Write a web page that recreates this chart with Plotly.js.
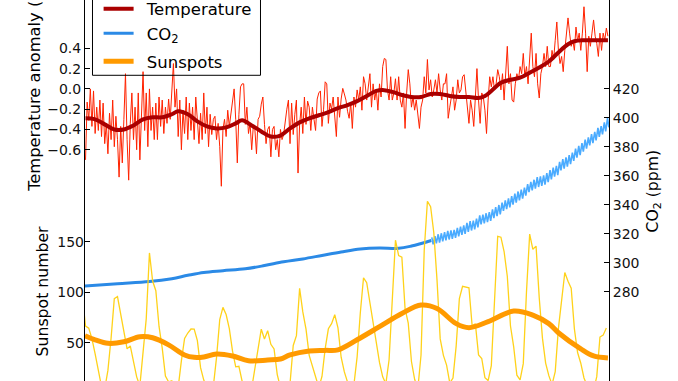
<!DOCTYPE html>
<html>
<head>
<meta charset="utf-8">
<script src="https://cdn.plot.ly/plotly-3.0.1.min.js"></script>
<style>html,body{margin:0;padding:0;background:#fff;}#chart{width:678px;height:381px;}</style>
</head>
<body>
<div id="chart"></div>
<script>
// ---------------- DATA ----------------
// Raw temperature anomaly (°C), half-year samples starting 1850.0
const tempStartYear = 1850.0;
const tempStep = 0.5;
const tempRaw = [
-0.70,-0.13,-0.31,0.00,-0.37,-0.02,-0.44,-0.18,-0.41,-0.11,
-0.47,-0.14,-0.54,-0.34,-0.64,-0.24,-0.50,-0.11,-0.57,-0.27,
-0.50,-0.87,-0.37,-0.73,-0.30,0.15,-0.50,-0.90,-0.34,-0.04,
-0.50,-0.18,-0.60,-0.04,-0.70,-0.20,0.17,-0.41,-0.04,-0.57,
0.00,-0.41,-0.18,-0.50,-0.14,-0.50,-0.08,-0.37,-0.11,-0.44,
-0.18,-0.34,-0.10,-0.30,-0.05,0.25,-0.18,0.00,-0.47,-0.11,
-0.60,-0.21,-0.44,-0.08,-0.50,-0.14,-0.41,-0.18,-0.50,-0.08,
-0.31,-0.54,-0.24,-0.50,-0.04,-0.44,-0.18,-0.57,-0.25,-0.45,
-0.30,
-0.27,-0.50,-0.34,-0.57,-0.96,-0.40,-0.30,-0.47,-0.21,-0.37,
-0.25,-0.08,0.00,-0.30,-0.73,-0.25,0.02,0.05,0.05,-0.35,
-0.18,-0.44,-0.34,-0.60,-0.37,-0.40,-0.64,-0.30,-0.27,-0.15,
-0.08,-0.35,-0.54,-0.40,-0.37,-0.67,-0.40,-0.37,-0.60,-0.50,
-0.67,-0.40,-0.50,-0.45,-0.30,-0.20,-0.11,-0.54,-0.14,-0.45,
-0.25,-0.11,-0.83,-0.35,-0.18,-0.44,-0.08,-0.35,-0.12,-0.18,
-0.41,-0.18,-0.30,-0.41,-0.10,-0.04,-0.02,-0.37,-0.20,0.07,
0.05,-0.34,-0.14,-0.20,-0.08,-0.30,-0.47,-0.08,-0.28,-0.10,
0.005,-0.05,
-0.11,-0.22,-0.29,-0.14,-0.39,-0.08,-0.18,-0.01,-0.11,0.02,
-0.21,0.12,0.05,-0.11,0.02,0.15,-0.18,0.05,-0.11,-0.01,
-0.21,0.05,-0.08,0.22,0.30,0.29,-0.01,-0.11,0.12,-0.11,
-0.04,0.10,-0.11,0.12,-0.11,-0.18,-0.04,-0.39,-0.04,0.19,
0.05,-0.18,-0.08,-0.21,-0.11,-0.27,-0.39,-0.18,-0.11,0.12,
-0.04,0.29,-0.01,0.09,-0.08,-0.01,0.09,-0.04,0.15,-0.01,
-0.11,0.05,0.05,0.15,-0.29,-0.18,-0.08,0.02,-0.21,-0.11,
0.09,-0.04,-0.01,0.12,0.14,-0.01,-0.14,-0.34,
-0.11,-0.21,-0.37,-0.04,0.20,-0.11,-0.34,-0.04,-0.08,-0.21,
-0.44,-0.11,0.12,0.02,0.12,-0.01,0.05,0.19,0.12,-0.01,
0.15,-0.11,0.12,0.42,0.05,0.15,-0.11,-0.13,0.05,0.15,
0.09,0.22,0.15,0.35,0.12,0.22,0.05,0.35,0.55,0.22,
0.12,0.35,0.05,-0.09,0.15,0.22,0.35,0.22,0.42,0.22,
0.22,0.38,0.29,0.48,0.66,0.38,0.25,0.32,0.17,0.38,
0.52,0.70,0.55,0.42,0.48,0.38,0.61,0.47,0.55,0.38,
0.55,0.81,0.55,0.17,0.52,0.42,0.55,0.68,0.52,0.45,
0.32,0.55,0.38,0.55,0.48,0.60,0.52
];

// Smoothed temperature
const tempSmoothYears = [1850,1853,1856,1859,1862,1865,1868,1871,1874,1877,1879,1882,1885,1888,1891,1894,1897,1899,1902,1905,1908,1911,1914,1917,1920,1923,1926,1929,1932,1935,1938,1941,1943,1946,1949,1952,1955,1958,1961,1964,1967,1970,1973,1975,1977,1980,1983,1986,1989,1992,1995,1998,2001,2003,2006,2009,2013.5];
const tempSmooth = [-0.29,-0.30,-0.35,-0.40,-0.40,-0.36,-0.30,-0.28,-0.28,-0.25,-0.22,-0.25,-0.32,-0.37,-0.39,-0.38,-0.34,-0.31,-0.36,-0.42,-0.47,-0.46,-0.39,-0.33,-0.29,-0.26,-0.23,-0.19,-0.16,-0.12,-0.07,-0.02,-0.01,-0.03,-0.06,-0.08,-0.08,-0.05,-0.05,-0.07,-0.08,-0.08,-0.09,-0.07,-0.02,0.06,0.09,0.11,0.16,0.21,0.27,0.36,0.44,0.47,0.48,0.48,0.48];

// CO2 (ppm): ice-core smoothed record
const co2LawYears = [1849,1860,1870,1877,1882,1887,1893,1900,1906,1912,1918,1924,1930,1936,1942,1948,1952,1958.2];
const co2Law = [283.8,285.5,287.0,289.0,291.3,293.3,294.5,295.8,298.0,300.6,302.6,305.0,307.4,309.5,310.2,309.9,311.5,315.3];

// CO2 (ppm): Mauna Loa seasonal maxima (May) and minima (Oct), 1958-2013
const mlYears = [1958,1959,1960,1961,1962,1963,1964,1965,1966,1967,1968,1969,1970,1971,1972,1973,1974,1975,1976,1977,1978,1979,1980,1981,1982,1983,1984,1985,1986,1987,1988,1989,1990,1991,1992,1993,1994,1995,1996,1997,1998,1999,2000,2001,2002,2003,2004,2005,2006,2007,2008,2009,2010,2011,2012,2013];
const mlMay = [317.5,318.3,319.6,320.3,321.0,322.0,322.3,322.6,324.0,324.8,325.8,327.4,328.6,329.0,330.4,332.6,333.2,334.1,334.9,336.8,338.4,339.8,341.5,343.0,344.4,345.9,347.6,349.1,350.4,351.8,354.2,355.8,357.2,359.0,359.6,360.2,361.8,363.9,365.5,366.7,369.6,371.4,372.6,374.2,375.9,378.6,380.6,382.5,384.9,386.5,388.6,390.2,393.0,394.2,396.8,399.8];
const mlOct = [312.7,313.3,313.8,314.7,315.4,316.0,316.5,317.1,318.2,319.2,319.8,321.3,322.2,323.0,324.3,326.4,327.1,328.0,328.9,330.7,332.2,333.4,335.7,336.9,338.2,340.0,341.5,342.9,344.2,346.2,348.6,349.9,351.1,352.2,353.0,353.8,355.6,357.5,359.4,360.3,363.6,364.9,366.3,367.9,370.3,372.5,374.1,376.6,378.6,380.9,382.5,384.4,386.7,388.5,390.5,393.4];

// Sunspot number, yearly means 1849-2013
const sunStartYear = 1849;
const sunspots = [95.8,
66.6,64.5,54.1,39.0,20.6,6.7,4.3,22.7,54.8,93.8,
95.8,77.2,59.1,44.0,47.0,30.5,16.3,7.3,37.6,74.0,
139.0,111.2,101.6,66.2,44.7,17.0,11.3,12.4,3.4,6.0,
32.3,54.3,59.7,63.7,63.5,52.2,25.4,13.1,6.8,6.3,
7.1,35.6,73.0,85.1,78.0,64.0,41.8,26.2,26.7,12.1,
9.5,2.7,5.0,24.4,42.0,63.5,53.8,62.0,48.5,43.9,
18.6,5.7,3.6,1.4,9.6,47.4,57.1,103.9,80.6,63.6,
37.6,26.1,14.2,5.8,16.7,44.3,63.9,69.0,77.8,64.9,
35.7,21.2,11.1,5.7,8.7,36.1,79.7,114.4,109.6,88.8,
67.8,47.5,30.6,16.3,9.6,33.2,92.6,151.6,136.3,134.7,
83.9,69.4,31.5,13.9,4.4,38.0,141.7,190.2,184.8,159.0,
112.3,53.9,37.6,27.9,10.2,15.1,47.0,93.8,105.9,105.5,
104.5,66.6,68.9,38.0,34.5,15.5,12.6,27.5,92.5,155.4,
154.6,140.4,115.9,66.6,45.9,17.9,13.4,29.4,100.2,157.6,
142.6,145.7,94.3,54.6,29.9,17.5,8.6,21.5,64.3,93.3,
119.6,111.0,104.0,63.7,40.4,29.8,15.2,7.5,2.9,3.1,
16.5,55.7,57.6,64.7];

// Smoothed sunspot number
const sunSmoothYears = [1849.8,1853,1857,1862,1867,1871,1876,1881,1884,1887,1891,1896,1901,1907,1911,1914,1920,1925,1929,1935,1942,1949,1955,1960,1966,1970,1976,1984,1990,1995,1998,2005,2009,2013.5];
const sunSmooth = [57,53,49.5,51,56,55,48,38,35.6,36,38.9,37,32.3,33,34,38,42,42.5,43,53,66,79,87.4,84,69,65,71,81.5,77.5,69,60,44,37,35];

// Legend labels and axis tick labels
const legendNames = ['Temperature', 'CO<sub>2</sub>', 'Sunspots'];
const tempTicks = [-0.6,-0.4,-0.2,0.0,0.2,0.4];
const tempTickText = ['\u22120.6','\u22120.4','\u22120.2','0.0','0.2','0.4'];
const co2Ticks = [280,300,320,340,360,380,400,420];
const sunTicks = [50,100,150];

// ---------------- BUILD ----------------
const tempYears = tempRaw.map((_, i) => tempStartYear + i * tempStep);
const sunYears = sunspots.map((_, i) => sunStartYear + i);
const mlX = [], mlY = [];
mlYears.forEach((y, i) => { mlX.push(y + 0.37, y + 0.79); mlY.push(mlMay[i], mlOct[i]); });
const pad = '\u2002';

const traces = [
  {x: tempYears, y: tempRaw, type:'scatter', mode:'lines', yaxis:'y', showlegend:false, hoverinfo:'skip',
   line:{color:'#ff2200', width:1}},
  {x: tempSmoothYears, y: tempSmooth, type:'scatter', mode:'lines', yaxis:'y', name: pad + legendNames[0], legendgroup:'a',
   line:{color:'#aa0000', width:4, shape:'spline', smoothing:1}},
  {x: co2LawYears, y: co2Law, type:'scatter', mode:'lines', yaxis:'y2', name: pad + legendNames[1], legendgroup:'a',
   line:{color:'#2b8ae6', width:3, shape:'spline', smoothing:1}},
  {x: mlX, y: mlY, type:'scatter', mode:'lines', yaxis:'y2', showlegend:false, hoverinfo:'skip',
   line:{color:'#4aabff', width:1.6}},
  {x: sunYears, y: sunspots, type:'scatter', mode:'lines', yaxis:'y3', showlegend:false, hoverinfo:'skip',
   line:{color:'#ffd21a', width:1.3}},
  {x: sunSmoothYears, y: sunSmooth, type:'scatter', mode:'lines', yaxis:'y3', name: pad + legendNames[2], legendgroup:'b',
   line:{color:'#ff9a00', width:5, shape:'spline', smoothing:1}}
];

const axisCommon = {showgrid:false, zeroline:false, ticks:'inside', ticklen:5, tickwidth:1, tickcolor:'#000',
  tickfont:{family:'DejaVu Sans', size:14, color:'#111'}, fixedrange:true};

const layout = {
  width: 678, height: 381,
  margin: {l:85, r:69, t:0, b:0, pad:0, autoexpand:false},
  paper_bgcolor:'#fff', plot_bgcolor:'#fff',
  font: {family:'DejaVu Sans', size:14, color:'#000'},
  showlegend: true,
  legend: {x:0.0145, xanchor:'left', y:0.7913, yanchor:'bottom', bgcolor:'rgba(0,0,0,0)',
    borderwidth:0, indentation:6, itemwidth:30, tracegroupgap:3.7, traceorder:'grouped',
    font:{family:'DejaVu Sans', size:16.5, color:'#000'}},
  xaxis: {range:[1849.83, 2013.83], visible:false, fixedrange:true},
  yaxis: Object.assign({}, axisCommon, {range:[-2.8807, 0.8767], tickvals: tempTicks, ticktext: tempTickText,
    showline:true, linecolor:'#000', linewidth:1, side:'left'}),
  yaxis2: Object.assign({}, axisCommon, {range:[218.41, 481.17], tickvals: co2Ticks, overlaying:'y', side:'right',
    anchor:'x', showline:true, linecolor:'#000', linewidth:1}),
  yaxis3: Object.assign({}, axisCommon, {range:[12.2, 389.4], tickvals: sunTicks, overlaying:'y', side:'left',
    anchor:'x', showline:false}),
  shapes: [
    {type:'rect', xref:'paper', yref:'paper', x0:0.0143, x1:0.3349, y0:0.8024, y1:1.05,
     line:{color:'#000', width:1}, fillcolor:'rgba(0,0,0,0)', layer:'above'}
  ],
  annotations: [
    {text:'Temperature anomaly (°C)', textangle:-90, xref:'paper', yref:'paper', x:-0.0954, y:0.780,
     xanchor:'center', yanchor:'middle', showarrow:false, font:{family:'DejaVu Sans', size:16.3, color:'#000'}},
    {text:'Sunspot number', textangle:-90, xref:'paper', yref:'paper', x:-0.081, y:0.234,
     xanchor:'center', yanchor:'middle', showarrow:false, font:{family:'DejaVu Sans', size:15.7, color:'#000'}},
    {text:'CO<sub>2</sub> (ppm)', textangle:-90, xref:'paper', yref:'paper', x:1.0853, y:0.499,
     xanchor:'center', yanchor:'middle', showarrow:false, font:{family:'DejaVu Sans', size:15.7, color:'#000'}}
  ]
};

Plotly.newPlot('chart', traces, layout, {staticPlot:true, displayModeBar:false});
</script>
</body>
</html>
